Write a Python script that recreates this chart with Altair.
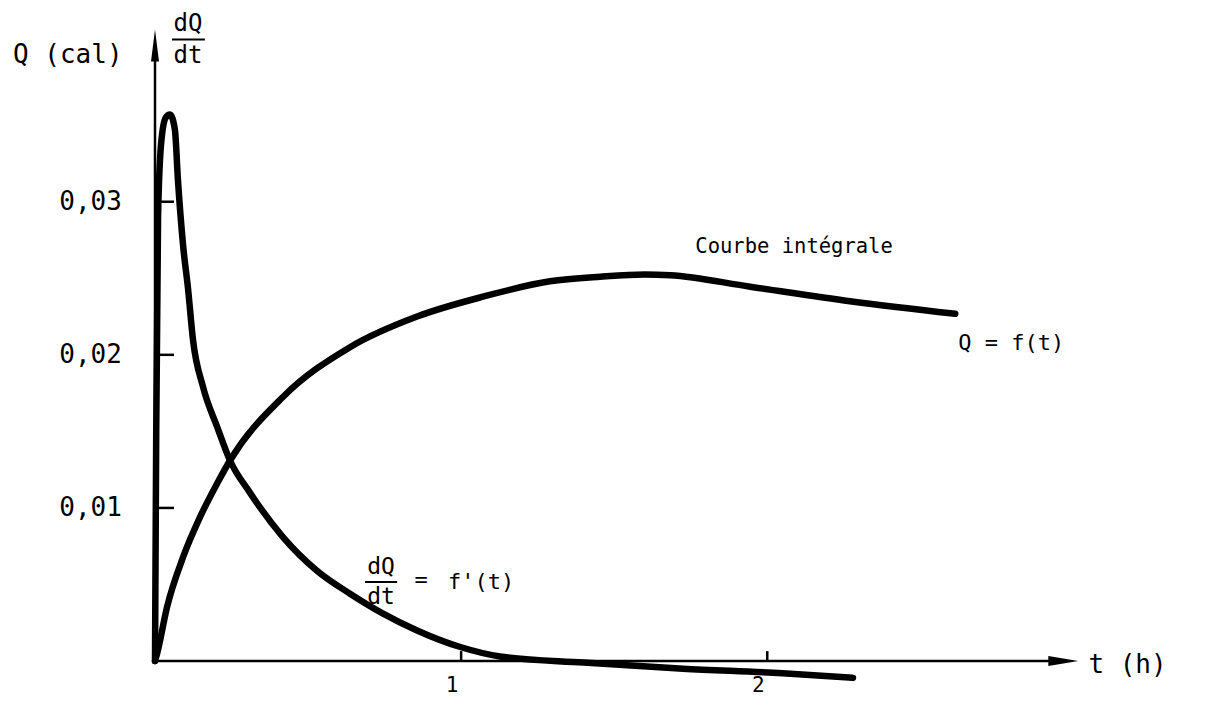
import altair as alt
import pandas as pd

# ---- data (t in hours, values in cal / cal per h) ----
t_q = [0, 0.007, 0.039, 0.092, 0.147, 0.203, 0.245, 0.418, 0.637, 0.856, 1.072,
       1.29, 1.454, 1.6, 1.683, 1.944, 2.27, 2.614]
q_vals = [0, 0.0005, 0.0035, 0.0068, 0.0094, 0.0116, 0.0131, 0.01725, 0.0205,
          0.0225, 0.0238, 0.0248, 0.0251, 0.02525, 0.0252, 0.02445, 0.0235, 0.02268]

t_d = [0, 0.004, 0.01, 0.02, 0.035, 0.049, 0.065, 0.075, 0.092, 0.108, 0.124,
       0.157, 0.203, 0.245, 0.31, 0.418, 0.529, 0.637, 0.745, 0.856, 1.0, 1.127,
       1.4, 1.725, 2.05, 2.28]
d_vals = [0, 0.015, 0.029, 0.0338, 0.0355, 0.0357, 0.0347, 0.0314, 0.0271, 0.0243,
          0.0210, 0.0179, 0.0153, 0.0131, 0.0110, 0.0081, 0.0059, 0.0044, 0.0031,
          0.0020, 0.0009, 0.0003, -0.0001, -0.0005, -0.0008, -0.0011]

y_ticks = [0.01, 0.02, 0.03]
y_tick_labels = ["0,01", "0,02", "0,03"]
x_ticks = [1, 2]
x_tick_labels = ["1", "2"]

X_DOMAIN = [0, 3.1]
Y_DOMAIN = [-0.0015, 0.042]

X_AXIS_END = 2.95
X_ARROW_T = 2.967
Y_AXIS_END = 0.040
Y_ARROW_V = 0.0402
Y_TICK_LEN = 0.062
X_TICK_LEN = 0.00065

FONT = "DejaVu Sans Mono"

xs = alt.Scale(domain=X_DOMAIN, nice=False, zero=False)
ys = alt.Scale(domain=Y_DOMAIN, nice=False, zero=False)


def X(f):
    return alt.X(f, type="quantitative", scale=xs, axis=None)


def Y(f):
    return alt.Y(f, type="quantitative", scale=ys, axis=None)


q_df = pd.DataFrame({"t": t_q, "v": q_vals})
d_df = pd.DataFrame({"t": t_d, "v": d_vals})

curve_style = dict(color="black", strokeWidth=6.5, interpolate="monotone",
                   strokeCap="round", strokeJoin="round", clip=False)

q_line = alt.Chart(q_df).mark_line(**curve_style).encode(x=X("t"), y=Y("v"))
d_line = alt.Chart(d_df).mark_line(**curve_style).encode(x=X("t"), y=Y("v"))

# axes lines
axes_df = pd.DataFrame({
    "x": [0, 0], "x2": [X_AXIS_END, 0],
    "y": [0, 0], "y2": [0, Y_AXIS_END],
})
axes = alt.Chart(axes_df).mark_rule(color="black", strokeWidth=2.5, clip=False).encode(
    x=X("x"), x2="x2", y=Y("y"), y2="y2")

x_arrow = alt.Chart(pd.DataFrame({"t": [X_ARROW_T], "v": [0]})).mark_point(
    shape="M1,0L-1,-0.33L-1,0.33Z", size=900, filled=True, color="black",
    opacity=1, clip=False).encode(x=X("t"), y=Y("v"))
y_arrow = alt.Chart(pd.DataFrame({"t": [0], "v": [Y_ARROW_V]})).mark_point(
    shape="M0,-1L0.25,1L-0.25,1Z", size=1024, filled=True, color="black",
    opacity=1, clip=False).encode(x=X("t"), y=Y("v"))

# ticks
yt_df = pd.DataFrame({"x": [0] * len(y_ticks), "x2": [Y_TICK_LEN] * len(y_ticks),
                      "y": y_ticks, "label": y_tick_labels})
y_tick_rules = alt.Chart(yt_df).mark_rule(color="black", strokeWidth=2.5).encode(
    x=X("x"), x2="x2", y=Y("y"))
xt_df = pd.DataFrame({"x": x_ticks, "y": [0] * len(x_ticks),
                      "y2": [X_TICK_LEN] * len(x_ticks), "label": x_tick_labels})
x_tick_rules = alt.Chart(xt_df).mark_rule(color="black", strokeWidth=2.5).encode(
    x=X("x"), y=Y("y"), y2="y2")

y_tick_text = alt.Chart(yt_df.assign(lx=-0.108)).mark_text(
    font=FONT, fontSize=26, align="right", baseline="middle", color="black").encode(
    x=X("lx"), y=Y("y"), text="label")
x_tick_text = alt.Chart(xt_df.assign(ly=-0.0016)).mark_text(
    font=FONT, fontSize=21, align="center", baseline="middle", color="black",
    dx=-9, clip=False).encode(x=X("x"), y=Y("ly"), text="label")


def txt(rows, size, align="left"):
    df = pd.DataFrame(rows, columns=["t", "v", "s"])
    return alt.Chart(df).mark_text(font=FONT, fontSize=size, align=align,
                                   baseline="middle", color="black", clip=False).encode(
        x=X("t"), y=Y("v"), text="s")


labels_big = txt([(-0.464, 0.0396, "Q (cal)"), (3.049, -0.00026, "t (h)")], 26)
frac_top = txt([(0.1078, 0.04158, "dQ"), (0.1078, 0.03955, "dt")], 24, "center")
frac_bot = txt([(0.7386, 0.00612, "dQ"), (0.7386, 0.00420, "dt")], 23, "center")
eq_bot = txt([(0.869, 0.00529, "="), ], 22, "center")
f_bot = txt([(0.9575, 0.00516, "f'(t)")], 22)
courbe = txt([(1.765, 0.02706, "Courbe intégrale")], 20.5)
qf = txt([(2.624, 0.02078, "Q = f(t)")], 22)

bars_df = pd.DataFrame({"x": [0.0556, 0.686], "x2": [0.163, 0.791], "y": [0.0406, 0.00516]})
bars = alt.Chart(bars_df).mark_rule(color="black", strokeWidth=2).encode(
    x=X("x"), x2="x2", y=Y("y"))

chart = alt.layer(
    axes, x_arrow, y_arrow, y_tick_rules, x_tick_rules,
    q_line, d_line,
    y_tick_text, x_tick_text, labels_big, frac_top, frac_bot, eq_bot, f_bot,
    courbe, qf, bars,
).properties(
    width=949, height=666,
    autosize=alt.AutoSizeParams(type="none"),
    padding={"left": 147, "top": 10, "right": 70, "bottom": 14},
    background="white",
).configure_view(stroke=None)

chart.save("out.html", embed_options={"renderer": "svg", "actions": False})
